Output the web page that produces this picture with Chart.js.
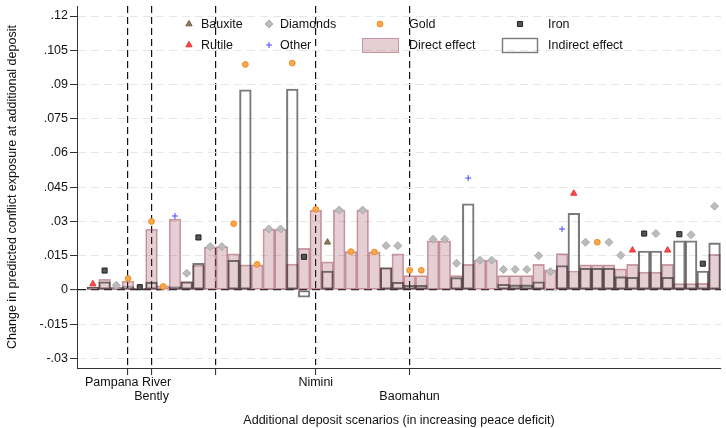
<!DOCTYPE html>
<html>
<head>
<meta charset="utf-8">
<script src="https://cdn.jsdelivr.net/npm/chart.js@4/dist/chart.umd.min.js"></script>
<style>
  body { margin: 0; background: #fff; }
  #wrap { width: 726px; height: 428px; }
</style>
</head>
<body>
<div id="wrap"><canvas id="c" width="726" height="428"></canvas></div>
<script>
// scenario data, one entry per additional deposit (ordered by peace deficit)
var direct = [.0012, .0047, .001, .0038, .0005, .0266, .0018, .031, .0037, .0108,
  .0187, .019, .0158, .011, .011, .0266, .0266, .0113, .0182, .035,
  .0123, .035, .0168, .035, .0166, .0096, .0158, .0063, .0063, .0215,
  .0215, .0063, .0112, .0131, .0131, .0063, .0063, .0063, .0112, .0088,
  .0159, .0083, .011, .011, .011, .0092, .0112, .0078, .0078, .0112,
  .0028, .0028, .0029, .0156];
var indirect = [.0012, .0036, .001, .0015, .0007, .0034, -.0003, .0014, .0036, .0117,
  .0003, .0002, .013, .0877, .0002, .0001, .0001, .088, -.0032, .0003,
  .0083, 0, 0, 0, 0, .0098, .0034, .002, .002, .0005,
  .0005, .0054, .0377, 0, 0, .0025, .0022, .0022, .0036, -.0003,
  .0107, .0336, .0095, .0095, .0095, .0058, .0055, .017, .017, .0055,
  .0215, .0215, .0083, .0206];
var depositType = ["Rutile", "Iron", "Diamonds", "Gold", "Iron", "Gold", "Gold", "Other", "Diamonds", "Iron",
  "Diamonds", "Diamonds", "Gold", "Gold", "Gold", "Diamonds", "Diamonds", "Gold", "Iron", "Gold",
  "Bauxite", "Diamonds", "Gold", "Diamonds", "Gold", "Diamonds", "Diamonds", "Gold", "Gold", "Diamonds",
  "Diamonds", "Diamonds", "Other", "Diamonds", "Diamonds", "Diamonds", "Diamonds", "Diamonds", "Diamonds", "Diamonds",
  "Other", "Rutile", "Diamonds", "Gold", "Diamonds", "Diamonds", "Rutile", "Iron", "Diamonds", "Rutile",
  "Iron", "Diamonds", "Iron", "Diamonds"];
var total = [.0026, .0085, .002, .005, .0012, .030, .0015, .0324, .0073, .023,
  .019, .019, .029, .0988, .0112, .0267, .0267, .0994, .0145, .0353,
  .0209, .035, .0168, .035, .0166, .0194, .0194, .0086, .0086, .0222,
  .0222, .0117, .049, .013, .013, .009, .009, .009, .015, .008,
  .0267, .0423, .0209, .0209, .0209, .0152, .0174, .0247, .0247, .0174,
  .0244, .0242, .0115, .0367];

var namedAt = [4, 6, 11.5, 20, 28];
var namedLabels = ["Pampana River", ["", "Bently"], "", "Nimini", ["", "Baomahun"]];
var yTicks = [-.03, -.015, 0, .015, .03, .045, .06, .075, .09, .105, .12];

var FONT = "'Liberation Sans', Arial, sans-serif";
Chart.defaults.font.family = FONT;
Chart.defaults.font.size = 12.5;
Chart.defaults.color = "#111";

var pinkFill = "rgba(145,55,75,0.24)";
var pinkLine = "rgba(160,80,95,0.55)";
var outLine = "rgba(40,40,40,0.62)";

var types = {
  Bauxite: { style: "triangle", r: 3.6, bg: "#8a7a55", bd: "#6e6040" },
  Rutile: { style: "triangle", r: 3.6, bg: "#ff4b4b", bd: "#e23434" },
  Diamonds: { style: "rectRot", r: 4, bg: "#bcbcbc", bd: "#a9a9a9" },
  Other: { style: "cross", r: 3, bg: "#4747ff", bd: "#4747ff" },
  Gold: { style: "circle", r: 2.9, bg: "#f8a94c", bd: "#f08a22" },
  Iron: { style: "rect", r: 3.6, bg: "#555", bd: "#222" }
};

function pts(arr) {
  return arr.map(function (v, i) { return { x: i + 1, y: v }; });
}

var datasets = [];
Object.keys(types).forEach(function (k) {
  var t = types[k];
  var data = [];
  total.forEach(function (v, i) {
    if (depositType[i] === k) data.push({ x: i + 1, y: v });
  });
  datasets.push({
    type: "scatter", label: k, data: data, order: 0,
    pointStyle: t.style, pointRadius: t.r, pointBackgroundColor: t.bg,
    pointBorderColor: t.bd, pointBorderWidth: 1
  });
});
datasets.push({
  type: "bar", label: "Indirect effect", data: pts(indirect), order: 1, grouped: false,
  backgroundColor: "rgba(0,0,0,0)", borderColor: outLine, borderWidth: 1.4,
  borderSkipped: false, barPercentage: 1, categoryPercentage: 1
});
datasets.push({
  type: "bar", label: "Direct effect", data: pts(direct), order: 2, grouped: false,
  backgroundColor: pinkFill, borderColor: pinkLine, borderWidth: 1,
  borderSkipped: false, barPercentage: 1, categoryPercentage: 1
});

function drawSym(ctx, t, x, y) {
  var r = t.r;
  ctx.save();
  ctx.fillStyle = t.bg; ctx.strokeStyle = t.bd; ctx.lineWidth = 1;
  ctx.beginPath();
  if (t.style === "triangle") {
    ctx.moveTo(x, y - r);
    ctx.lineTo(x + r * 0.866, y + r * 0.5);
    ctx.lineTo(x - r * 0.866, y + r * 0.5);
    ctx.closePath(); ctx.fill(); ctx.stroke();
  } else if (t.style === "rectRot") {
    ctx.moveTo(x, y - r); ctx.lineTo(x + r, y); ctx.lineTo(x, y + r); ctx.lineTo(x - r, y);
    ctx.closePath(); ctx.fill(); ctx.stroke();
  } else if (t.style === "cross") {
    ctx.moveTo(x - r, y); ctx.lineTo(x + r, y); ctx.moveTo(x, y - r); ctx.lineTo(x, y + r);
    ctx.stroke();
  } else if (t.style === "circle") {
    ctx.arc(x, y, r, 0, Math.PI * 2); ctx.fill(); ctx.stroke();
  } else {
    var s = r * Math.SQRT1_2;
    ctx.rect(x - s, y - s, 2 * s, 2 * s); ctx.fill(); ctx.stroke();
  }
  ctx.restore();
}

// stata-like legend sitting inside the plot
var legendBox = {
  id: "legendBox",
  afterDraw: function (chart) {
    var ctx = chart.ctx;
    var rows = [
      ["Bauxite", 189, 24, 201], ["Diamonds", 269, 24, 280], ["Gold", 380, 24, 409], ["Iron", 520, 24, 548],
      ["Rutile", 189, 45, 201], ["Other", 269, 45, 280]
    ];
    ctx.save();
    ctx.font = "12.5px " + FONT;
    ctx.fillStyle = "#111";
    ctx.textBaseline = "middle";
    ctx.textAlign = "left";
    rows.forEach(function (r) {
      drawSym(ctx, types[r[0]], r[1], r[2]);
      ctx.fillText(r[0], r[3], r[2] + 1);
    });
    ctx.fillStyle = pinkFill; ctx.strokeStyle = pinkLine; ctx.lineWidth = 1;
    ctx.fillRect(362.5, 38.5, 36, 14); ctx.strokeRect(362.5, 38.5, 36, 14);
    ctx.strokeStyle = outLine; ctx.lineWidth = 1.4;
    ctx.strokeRect(502.5, 38.5, 35, 14);
    ctx.fillStyle = "#111";
    ctx.fillText("Direct effect", 409, 46);
    ctx.fillText("Indirect effect", 548, 46);
    ctx.restore();
  }
};

new Chart(document.getElementById("c"), {
  type: "bar",
  data: { datasets: datasets },
  plugins: [legendBox],
  options: {
    responsive: false,
    animation: false,
    layout: { padding: { top: 6, right: 0, left: 0, bottom: 0 } },
    plugins: { legend: { display: false }, tooltip: { enabled: false } },
    scales: {
      x: {
        type: "linear",
        offset: false,
        min: -0.354,
        max: 54.55,
        afterBuildTicks: function (s) {
          s.ticks = namedAt.map(function (v) { return { value: v }; });
        },
        afterFit: function (s) { s.height = 60; },
        ticks: {
          autoSkip: false, maxRotation: 0, padding: 1,
          font: { size: 12.5, lineHeight: 1.1 },
          callback: function (v, i) { return namedLabels[i]; }
        },
        grid: { offset: false, color: "#111", lineWidth: 1.2, tickLength: 7, tickColor: "#222", tickWidth: 1 },
        border: { color: "#333", width: 1, dash: [7, 4] },
        title: {
          display: true, text: "Additional deposit scenarios (in increasing peace deficit)",
          font: { size: 12.5 }, padding: { top: 0, bottom: 0 }
        }
      },
      y: {
        min: -0.0342,
        max: 0.1244,
        afterBuildTicks: function (s) {
          s.ticks = yTicks.map(function (v) { return { value: v }; });
        },
        afterFit: function (s) { s.width = 77; s.paddingTop = 0; s.paddingBottom = 0; },
        ticks: {
          padding: 2,
          callback: function (v) {
            if (Math.abs(v) < 1e-9) return "0";
            return String(+v.toFixed(3)).replace("0.", ".");
          }
        },
        grid: {
          tickLength: 7, tickColor: "#333", tickWidth: 1,
          color: function (c) { return c.tick && Math.abs(c.tick.value) < 1e-9 ? "#222" : "#e6e6e6"; },
          lineWidth: function (c) { return c.tick && Math.abs(c.tick.value) < 1e-9 ? 1.2 : 1; }
        },
        border: { color: "#333", width: 1, dash: [8, 5] },
        title: {
          display: true, text: "Change in predicted conflict exposure at additional deposit",
          font: { size: 12.5 }, padding: { top: 5.5, bottom: 0 }
        }
      }
    }
  }
});
</script>
</body>
</html>
